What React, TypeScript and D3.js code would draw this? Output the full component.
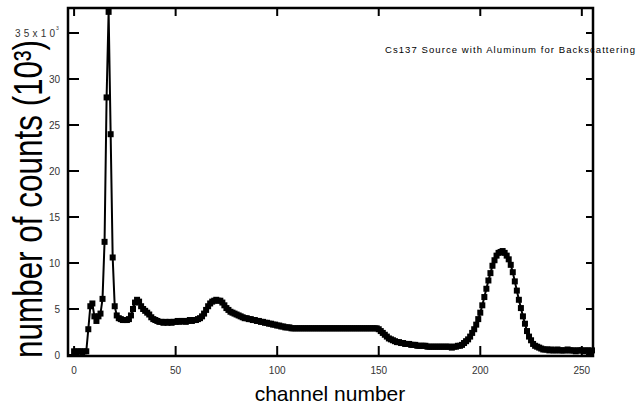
import * as d3 from 'd3';

// counts in thousands, one value per channel (0..255)
const counts: number[] = [
  0.4, 0.3, 0.4, 0.4, 0.3, 0.4, 0.4, 2.8, 5.3, 5.6,
  4.2, 3.7, 4.2, 4.5, 6.1, 12.3, 28.0, 37.3, 24.0, 10.6,
  5.3, 4.3, 4.0, 3.9, 3.8, 3.8, 3.8, 3.9, 4.3, 5.0,
  5.7, 6.0, 5.8, 5.3, 5.0, 4.8, 4.6, 4.4, 4.1, 3.9,
  3.8, 3.7, 3.6, 3.6, 3.5, 3.6, 3.5, 3.6, 3.5, 3.6,
  3.6, 3.7, 3.6, 3.7, 3.7, 3.6, 3.7, 3.8, 3.7, 3.8,
  3.8, 3.9, 4.0, 4.2, 4.5, 4.9, 5.3, 5.6, 5.8, 5.9,
  6.0, 5.9, 5.9, 5.7, 5.4, 5.1, 4.9, 4.7, 4.6, 4.5,
  4.4, 4.3, 4.2, 4.1, 4.0, 4.0, 3.9, 3.9, 3.8, 3.8,
  3.7, 3.7, 3.6, 3.6, 3.5, 3.5, 3.4, 3.4, 3.3, 3.3,
  3.2, 3.2, 3.1, 3.1, 3.0, 3.0, 3.0, 2.9, 2.9, 2.9,
  2.9, 2.9, 2.9, 2.9, 2.9, 2.9, 2.9, 2.9, 2.9, 2.9,
  2.9, 2.9, 2.9, 2.9, 2.9, 2.9, 2.9, 2.9, 2.9, 2.9,
  2.9, 2.9, 2.9, 2.9, 2.9, 2.9, 2.9, 2.9, 2.9, 2.9,
  2.9, 2.9, 2.9, 2.9, 2.9, 2.9, 2.9, 2.9, 2.9, 2.9,
  2.8, 2.6, 2.4, 2.2, 2.0, 1.8, 1.7, 1.6, 1.5, 1.4,
  1.4, 1.3, 1.3, 1.2, 1.2, 1.2, 1.1, 1.1, 1.1, 1.0,
  1.0, 1.0, 1.0, 1.0, 0.9, 0.9, 0.9, 0.9, 0.9, 0.9,
  0.9, 0.9, 0.9, 0.9, 0.9, 0.9, 0.8, 0.9, 0.9, 1.0,
  1.0, 1.1, 1.3, 1.5, 1.7, 2.0, 2.4, 2.8, 3.3, 3.9,
  4.6, 5.4, 6.3, 7.2, 8.1, 8.9, 9.7, 10.3, 10.8, 11.1,
  11.2, 11.3, 11.1, 10.8, 10.4, 9.8, 9.0, 8.0, 7.0, 6.0,
  5.1, 4.2, 3.4, 2.6, 2.0, 1.6, 1.2, 1.0, 0.9, 0.8,
  0.7, 0.6, 0.6, 0.6, 0.5, 0.6, 0.5, 0.5, 0.6, 0.5,
  0.5, 0.5, 0.5, 0.6, 0.5, 0.5, 0.5, 0.4, 0.5, 0.5,
  0.5, 0.4, 0.5, 0.5, 0.4, 0.5,
];

const xTicks = [0, 50, 100, 150, 200, 250];
const yTicks = [0, 5, 10, 15, 20, 25, 30];
const title = 'Cs137 Source with Aluminum for Backscattering';

export default function App() {
  const width = 637;
  const height = 410;
  const left = 68, right = 593, top = 8, bottom = 356;

  const x = d3.scaleLinear().domain([-3, 255.5]).range([left, right]);
  const y = d3.scaleLinear().domain([-0.11, 37.72]).range([bottom, top]);

  const line = d3.line<number>()
    .x((_, i) => x(i))
    .y(d => y(d));

  const font = '"Liberation Sans", Arial, sans-serif';

  return (
    <svg width={width} height={height}
      style={{ position: 'absolute', left: 0, top: 0, background: '#fff' }}>
      {/* data */}
      <path d={line(counts) ?? ''} fill="none" stroke="#000" strokeWidth={2} />
      {counts.map((d, i) => (
        <rect key={i} x={x(i) - 3} y={y(d) - 3} width={6} height={6} fill="#000" />
      ))}

      {/* frame */}
      <rect x={left} y={top} width={right - left} height={bottom - top}
        fill="none" stroke="#000" strokeWidth={2.5} />

      {/* y ticks, left and right, inward */}
      {[...yTicks, 35].map(t => (
        <g key={t}>
          <line x1={left} x2={left + 11} y1={y(t)} y2={y(t)} stroke="#000" strokeWidth={2} />
          <line x1={right - 7} x2={right} y1={y(t)} y2={y(t)} stroke="#000" strokeWidth={2} />
        </g>
      ))}
      {yTicks.map(t => (
        <text key={t} x={60} y={y(t) + 4} textAnchor="end" fontSize={10}
          fontFamily={font} fill="#333">{t}</text>
      ))}

      {/* x ticks, bottom and top, inward */}
      {xTicks.map(t => (
        <g key={t}>
          <line x1={x(t)} x2={x(t)} y1={bottom} y2={bottom - 10} stroke="#000" strokeWidth={2} />
          <line x1={x(t)} x2={x(t)} y1={top} y2={top + 8} stroke="#000" strokeWidth={2} />
          <text x={x(t)} y={374} textAnchor="middle" fontSize={10}
            fontFamily={font} fill="#333">{t}</text>
        </g>
      ))}

      {/* axis titles */}
      <text x={330} y={401} textAnchor="middle" fontSize={21} fontFamily={font}
        fill="#000">channel number</text>
      <text transform="translate(42,358) rotate(-90) scale(1,1.7)" x={0} y={0}
        fontSize={24} fontFamily={font} fill="#000"
        textLength={318} lengthAdjust="spacingAndGlyphs">number of  counts (10³)</text>

      {/* multiplier on the top y label */}
      <rect x={14} y={30} width={46} height={12} fill="#fff" />
      <text x={15} y={y(35) + 4} fontSize={10} fontFamily={font} fill="#333"
        textLength={40} lengthAdjust="spacing">35x10</text>
      <text x={56} y={y(35) - 3} fontSize={5} fontFamily={font} fill="#333">3</text>

      {/* title */}
      <text x={385} y={53} fontSize={9.5} fontFamily={font} fill="#000"
        textLength={250} lengthAdjust="spacing">{title}</text>
    </svg>
  );
}
